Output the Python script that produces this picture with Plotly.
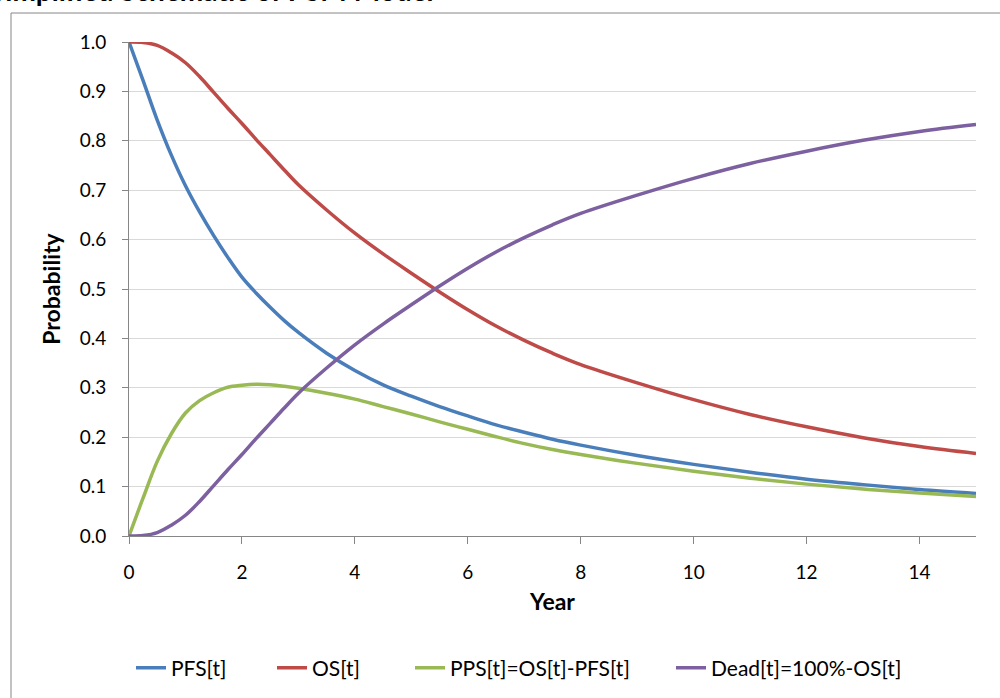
import plotly.graph_objects as go

# ---- data ----
years = [0, 0.25, 0.5, 0.75, 1, 1.25, 1.5, 1.75, 2, 2.25, 2.5, 2.75, 3, 3.5, 4, 4.5,
         5, 5.5, 6, 6.5, 7, 7.5, 8, 9, 10, 11, 12, 13, 14, 15]
pfs = [1.000, 0.922, 0.842, 0.771, 0.709, 0.656, 0.608, 0.564, 0.524, 0.492, 0.463,
       0.436, 0.412, 0.370, 0.335, 0.306, 0.283, 0.262, 0.243, 0.225, 0.210, 0.196,
       0.184, 0.163, 0.145, 0.129, 0.115, 0.104, 0.094, 0.086]
os_ = [1.000, 0.999, 0.993, 0.978, 0.958, 0.930, 0.898, 0.866, 0.835, 0.803, 0.772,
       0.741, 0.711, 0.660, 0.613, 0.571, 0.532, 0.494, 0.458, 0.425, 0.396, 0.370,
       0.347, 0.310, 0.276, 0.246, 0.221, 0.199, 0.181, 0.167]
pps = [0.000, 0.077, 0.151, 0.207, 0.249, 0.274, 0.290, 0.301, 0.305, 0.307, 0.306,
       0.303, 0.299, 0.289, 0.277, 0.262, 0.247, 0.231, 0.216, 0.201, 0.187, 0.175,
       0.165, 0.147, 0.131, 0.117, 0.105, 0.095, 0.087, 0.080]
dead = [0.000, 0.001, 0.007, 0.022, 0.042, 0.070, 0.102, 0.134, 0.165, 0.197, 0.228,
        0.259, 0.289, 0.340, 0.387, 0.429, 0.468, 0.506, 0.542, 0.575, 0.604, 0.630,
        0.653, 0.690, 0.724, 0.754, 0.779, 0.801, 0.819, 0.833]

series_names = ["PFS[t]", "OS[t]", "PPS[t]=OS[t]-PFS[t]", "Dead[t]=100%-OS[t]"]
series_values = [pfs, os_, pps, dead]
series_colors = ["#4A7EBB", "#BE4B48", "#98B954", "#7D60A0"]

x_ticks = [0, 2, 4, 6, 8, 10, 12, 14]
y_ticks = [0.0, 0.1, 0.2, 0.3, 0.4, 0.5, 0.6, 0.7, 0.8, 0.9, 1.0]

title_text = "Simplified Schematic of PSM Model"
x_title = "Year"
y_title = "Probability"

FONT = "Lato, Carlito, Calibri, sans-serif"

# plot area: x 129..976, y 42..536 in a 1000x698 canvas
L, R, T, B = 129, 24, 42, 162
PW, PH = 1000 - L - R, 698 - T - B


def px(xp):
    return (xp - L) / PW


def py(yp):
    return (698 - B - yp) / PH


# legend text start positions (pixels) for each entry
legend_text_x = [173, 314, 452, 713]
legend_keys = ["legend", "legend2", "legend3", "legend4"]

fig = go.Figure()
for name, vals, col, lk in zip(series_names, series_values, series_colors, legend_keys):
    fig.add_trace(go.Scatter(
        x=years, y=vals, mode="lines", name=name, legend=lk,
        line=dict(color=col, width=3.5, shape="spline", smoothing=1.0),
    ))

legend_layout = {}
for lk, tx in zip(legend_keys, legend_text_x):
    legend_layout[lk] = dict(
        orientation="h", x=px(tx - 42), xanchor="left", y=py(668), yanchor="middle",
        font=dict(family=FONT, size=21, color="#000000"),
        bgcolor="rgba(0,0,0,0)", borderwidth=0,
    )

fig.update_layout(
    width=1000, height=698,
    margin=dict(l=L, r=R, t=T, b=B, autoexpand=False),
    paper_bgcolor="white", plot_bgcolor="white",
    font=dict(family=FONT, size=19, color="#000000"),
    showlegend=True,
    **legend_layout,
    xaxis=dict(
        range=[0, 15], tickvals=x_ticks, ticktext=[str(v) for v in x_ticks],
        showgrid=False, zeroline=False,
        showline=True, linecolor="#868686", linewidth=1,
        ticks="outside", ticklen=7, tickcolor="#868686", tickwidth=1,
        ticklabelstandoff=12,
        tickfont=dict(family=FONT, size=19, color="#000000"),
        title=dict(text="<b>" + x_title + "</b>", standoff=12,
                   font=dict(family=FONT, size=23, color="#000000")),
    ),
    yaxis=dict(
        range=[0, 1.0], tickvals=y_ticks, tickformat=".1f",
        showgrid=True, gridcolor="#D9D9D9", gridwidth=1, zeroline=False,
        showline=True, linecolor="#868686", linewidth=1,
        ticks="outside", ticklen=6, tickcolor="#868686", tickwidth=1,
        ticklabelstandoff=12,
        tickfont=dict(family=FONT, size=19, color="#000000"),
        title=dict(text="<b>" + y_title + "</b>", standoff=12,
                   font=dict(family=FONT, size=23, color="#000000")),
    ),
    shapes=[
        dict(type="rect", xref="paper", yref="paper",
             x0=px(11), x1=px(1040), y0=py(740), y1=py(13),
             line=dict(color="#868686", width=1), fillcolor="rgba(0,0,0,0)",
             layer="below"),
    ],
    annotations=[
        dict(text="<b>" + title_text + "</b>", xref="paper", yref="paper",
             x=px(-12), xanchor="left", y=py(9), yanchor="bottom",
             showarrow=False, font=dict(family=FONT, size=28, color="#000000")),
    ],
)

fig.write_html(
    "out.html",
    config={"displayModeBar": False},
    post_script="document.body.style.margin='0';document.body.style.overflow='hidden';",
)
